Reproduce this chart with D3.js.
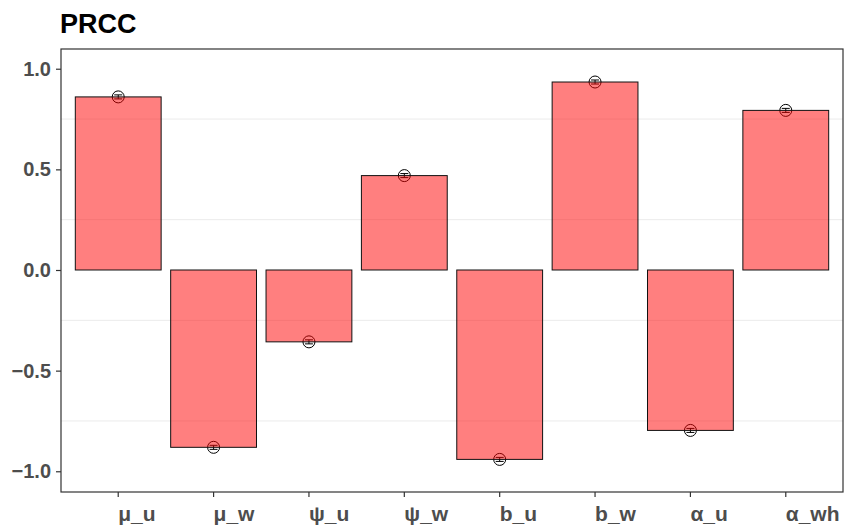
<script src="https://d3js.org/d3.v7.min.js"></script>
<style>
  body { margin: 0; background: #fff; }
  text { font-family: "Liberation Sans", Arial, sans-serif; }
</style>
<svg id="chart" width="845" height="525"></svg>
<script>
// PRCC values per parameter
var params = ['μ_u', 'μ_w', 'ψ_u', 'ψ_w', 'b_u', 'b_w', 'α_u', 'α_wh'];
var prcc = [0.860, -0.881, -0.357, 0.469, -0.941, 0.934, -0.797, 0.793];
var lower = [0.850, -0.891, -0.367, 0.459, -0.951, 0.924, -0.807, 0.783];
var upper = [0.870, -0.871, -0.347, 0.479, -0.931, 0.944, -0.787, 0.803];
var yTicks = [-1.0, -0.5, 0.0, 0.5, 1.0];
var yMinor = [-0.75, -0.25, 0.25, 0.75];

const svg = d3.select('#chart');
var margin = { top: 49, right: 2, bottom: 33, left: 61 };
var width = 845 - margin.left - margin.right;
var height = 525 - margin.top - margin.bottom;

// title
svg.append('text')
  .attr('x', 60)
  .attr('y', 33)
  .attr('font-size', 27)
  .attr('font-weight', 'bold')
  .attr('fill', '#000')
  .text('PRCC');

const g = svg.append('g')
  .attr('transform', `translate(${margin.left},${margin.top})`);

const x = d3.scaleBand()
  .domain(params)
  .range([0, width])
  .paddingInner(0.1)
  .paddingOuter(0.15);

const y = d3.scaleLinear()
  .domain([-1.103, 1.098])
  .range([height, 0]);

// minor grid lines only
g.selectAll('.minor')
  .data(yMinor)
  .enter().append('line')
  .attr('x1', 0).attr('x2', width)
  .attr('y1', d => y(d)).attr('y2', d => y(d))
  .attr('stroke', '#ebebeb')
  .attr('stroke-width', 1);

var data = params.map((p, i) => ({ p: p, v: prcc[i], lo: lower[i], hi: upper[i] }));

// points + error bars (drawn under the bars)
var cx = d => x(d.p) + x.bandwidth() / 2;
g.selectAll('.pt')
  .data(data)
  .enter().append('circle')
  .attr('cx', cx)
  .attr('cy', d => y(d.v))
  .attr('r', 6)
  .attr('fill', 'none')
  .attr('stroke', '#000')
  .attr('stroke-width', 1);

var eb = g.selectAll('.eb').data(data).enter().append('g');
eb.append('line')
  .attr('x1', cx).attr('x2', cx)
  .attr('y1', d => y(d.lo)).attr('y2', d => y(d.hi))
  .attr('stroke', '#000');
eb.append('line')
  .attr('x1', d => cx(d) - 4).attr('x2', d => cx(d) + 4)
  .attr('y1', d => y(d.lo)).attr('y2', d => y(d.lo))
  .attr('stroke', '#000');
eb.append('line')
  .attr('x1', d => cx(d) - 4).attr('x2', d => cx(d) + 4)
  .attr('y1', d => y(d.hi)).attr('y2', d => y(d.hi))
  .attr('stroke', '#000');

// bars
g.selectAll('.bar')
  .data(data)
  .enter().append('rect')
  .attr('x', d => x(d.p))
  .attr('width', x.bandwidth())
  .attr('y', d => y(Math.max(0, d.v)))
  .attr('height', d => Math.abs(y(d.v) - y(0)))
  .attr('fill', 'red')
  .attr('fill-opacity', 0.5)
  .attr('stroke', '#111')
  .attr('stroke-width', 1);

// panel border
g.append('rect')
  .attr('x', 0).attr('y', 0)
  .attr('width', width).attr('height', height)
  .attr('fill', 'none')
  .attr('stroke', '#333')
  .attr('stroke-width', 1.2);

// axes
const yAxis = d3.axisLeft(y)
  .tickValues(yTicks)
  .tickFormat(d3.format('.1f'))
  .tickSize(5)
  .tickPadding(5);
const yAxisG = g.append('g').call(yAxis);
yAxisG.select('.domain').remove();

const xAxis = d3.axisBottom(x)
  .tickSize(5)
  .tickPadding(8);
const xAxisG = g.append('g')
  .attr('transform', `translate(0,${height})`)
  .call(xAxis);
xAxisG.select('.domain').remove();
xAxisG.selectAll('.tick text')
  .attr('text-anchor', 'start')
  .attr('dy', '0.75em');

svg.selectAll('.tick line').attr('stroke', '#333').attr('stroke-width', 1.2);
svg.selectAll('.tick text')
  .attr('font-family', '"Liberation Sans", Arial, sans-serif')
  .attr('font-size', 20)
  .attr('font-weight', 'bold')
  .attr('fill', '#4d4d4d');
xAxisG.selectAll('.tick text').attr('font-size', 21);
</script>
